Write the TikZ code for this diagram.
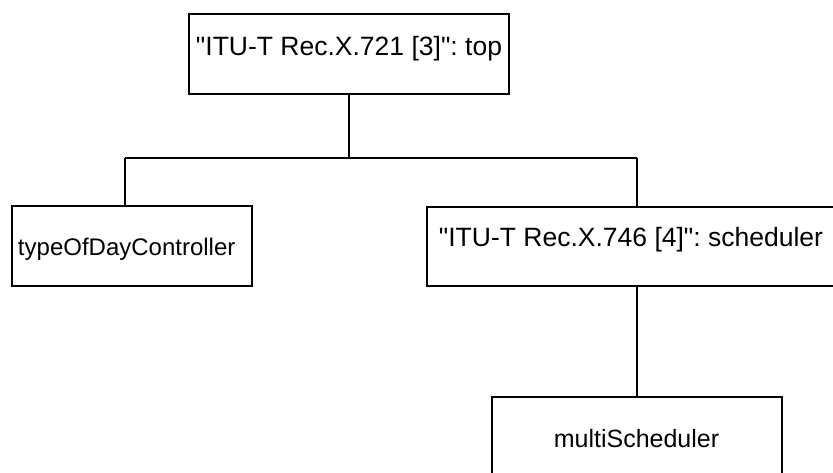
\documentclass[tikz,border=0pt]{standalone}
\usepackage{fontspec}
% a family declared this way keeps straight double quotes
\newfontfamily\arial{Liberation Sans}
\frenchspacing
\begin{document}
\begin{tikzpicture}[x=1pt,y=-1pt,
  objbox/.style={draw=black, line width=1.6pt, fill=white, inner sep=0pt},
  objtext/.style={anchor=base, inner sep=0pt, text=black},
  big/.style={font=\arial\fontsize{26.5}{30}\selectfont},
  mid/.style={font=\arial\fontsize{24}{28}\selectfont},
  conn/.style={draw=black, line width=1.6pt}]
\useasboundingbox (0,0) rectangle (833,473);
\clip (0,0) rectangle (833,473);

% object boxes
\node[objbox, minimum width=320pt, minimum height=80pt] (top) at (349,54) {};
\node[objbox, minimum width=240pt, minimum height=80pt] (tod) at (132,246) {};
\node[objbox, minimum width=408pt, minimum height=79pt] (sched) at (631,246.5) {};
\node[objbox, minimum width=290pt, minimum height=80pt] (multi) at (637,437) {};

% labels
\node[objtext, big] (topl) at (349,56) {"ITU-T Rec.X.721 [3]": top};
\node[objtext, mid] (todl) at (126.7,255) {typeOfDayController};
\node[objtext, mid, font=\arial\fontsize{25}{29}\selectfont] (multil) at (636.5,447) {multiScheduler};
\node[objtext, big] (schedl) at (631,247) {"ITU-T Rec.X.746 [4]": scheduler};

% containment tree
\coordinate (bus) at (349,158);
\coordinate (jl) at (125,158);
\coordinate (jr) at (637,158);
\draw[conn] (top.south) -- (bus);
\draw[conn] (jl) -- (jr);
\draw[conn] (jl) -- (jl |- tod.north);
\draw[conn] (jr) -- (jr |- sched.north);
\draw[conn] (jr |- sched.south) -- (jr |- multi.north);
\end{tikzpicture}
\end{document}
